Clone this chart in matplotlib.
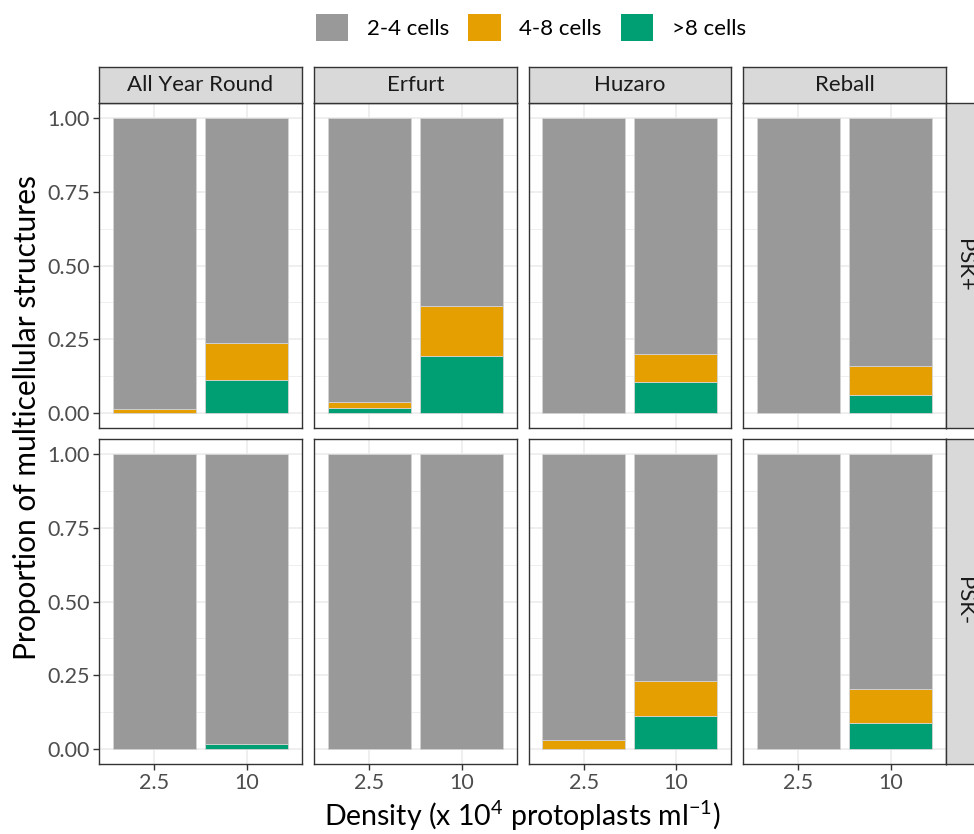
import matplotlib
matplotlib.use('Agg')
import matplotlib.pyplot as plt
from matplotlib.patches import Patch
import numpy as np

plt.rcParams['font.family'] = ['Lato', 'DejaVu Sans']
plt.rcParams['mathtext.fontset'] = 'custom'
plt.rcParams['mathtext.rm'] = 'Lato'
plt.rcParams['mathtext.it'] = 'Lato:italic'

# data
cultivars = ["All Year Round", "Erfurt", "Huzaro", "Reball"]
treatments = ["PSK+", "PSK-"]
densities = ["2.5", "10"]
classes = ["2-4 cells", "4-8 cells", ">8 cells"]
colors = ["#999999", "#E69F00", "#009E73"]

# proportion of >8 cells, [treatment][cultivar][density]
gt8 = [
    [[0.0, 0.112], [0.018, 0.194], [0.0, 0.104], [0.0, 0.060]],
    [[0.0, 0.017], [0.0, 0.0], [0.0, 0.112], [0.0, 0.087]],
]
# proportion of 4-8 cells
c48 = [
    [[0.012, 0.125], [0.018, 0.169], [0.0, 0.097], [0.0, 0.100]],
    [[0.0, 0.0], [0.0, 0.0], [0.029, 0.118], [0.0, 0.116]],
]

W, H = 974, 834
fig = plt.figure(figsize=(W / 100, H / 100), dpi=100)


def px(x0, y0, x1, y1):
    return [x0 / W, 1 - y1 / H, (x1 - x0) / W, (y1 - y0) / H]


col_x = [(99, 302), (314, 517), (528.5, 731), (743, 946)]
row_y = [(103.25, 427.75), (439.25, 763.75)]
edge = "#333333"
x = np.arange(1, len(densities) + 1)

for r, trt in enumerate(treatments):
    for c, cv in enumerate(cultivars):
        ax = fig.add_axes(px(col_x[c][0], row_y[r][0], col_x[c][1], row_y[r][1]))
        g = np.array(gt8[r][c])
        o = np.array(c48[r][c])
        s = 1 - g - o
        bar_kw = dict(width=0.9, edgecolor="#d4d4d4", linewidth=0.6, zorder=2)
        ax.bar(x, g, bottom=0, color=colors[2], **bar_kw)
        ax.bar(x, o, bottom=g, color=colors[1], **bar_kw)
        ax.bar(x, s, bottom=g + o, color=colors[0], **bar_kw)

        ax.set_xlim(0.4, 2.6)
        ax.set_ylim(-0.05, 1.05)
        ax.set_xticks(x)
        ax.set_xticklabels(densities)
        ax.set_yticks([0, 0.25, 0.5, 0.75, 1.0])
        ax.set_yticklabels(["0.00", "0.25", "0.50", "0.75", "1.00"])
        ax.set_yticks([0.125, 0.375, 0.625, 0.875], minor=True)
        ax.grid(which="major", color="#EBEBEB", linewidth=1.1)
        ax.grid(which="minor", axis="y", color="#EBEBEB", linewidth=0.55)
        ax.set_axisbelow(True)
        ax.tick_params(which="minor", length=0)
        ax.tick_params(which="major", length=4, width=1, color=edge,
                       labelsize=15.5, labelcolor="#4D4D4D", pad=2.5)
        for sp in ax.spines.values():
            sp.set_color(edge)
            sp.set_linewidth(1)
        if c > 0:
            ax.tick_params(axis="y", labelleft=False, length=0)
        if r == 0:
            ax.tick_params(axis="x", labelbottom=False, length=0)

        # column strips
        if r == 0:
            sa = fig.add_axes(px(col_x[c][0], 67, col_x[c][1], 103.25))
            sa.set_facecolor("#D9D9D9")
            sa.set_xticks([])
            sa.set_yticks([])
            for sp in sa.spines.values():
                sp.set_color(edge)
                sp.set_linewidth(1)
            sa.text(0.5, 0.5, cv, ha="center", va="center", fontsize=16,
                    color="#1A1A1A", transform=sa.transAxes)
        # row strips
        if c == len(cultivars) - 1:
            sa = fig.add_axes(px(946, row_y[r][0], 982, row_y[r][1]))
            sa.set_facecolor("#D9D9D9")
            sa.set_xticks([])
            sa.set_yticks([])
            for sp in sa.spines.values():
                sp.set_color(edge)
                sp.set_linewidth(1)
            sa.text(0.5, 0.5, trt, ha="center", va="center", fontsize=16,
                    color="#1A1A1A", rotation=-90, transform=sa.transAxes)

handles = [Patch(facecolor=col, edgecolor="none") for col in colors]
fig.legend(handles, classes, loc="center", bbox_to_anchor=(531 / W, 1 - 27.5 / H),
           ncol=3, frameon=False, fontsize=16, handlelength=1.45, handleheight=1.45,
           handletextpad=0.85, columnspacing=0.85, borderaxespad=0, borderpad=0)

fig.text(522.5 / W, 1 - 816 / H, "Density (x 10$^{4}$ protoplasts ml$^{-1}$)",
         ha="center", va="center", fontsize=20.5)
fig.text(27 / W, 1 - 418 / H, "Proportion of multicellular structures",
         ha="center", va="center", fontsize=21.5, rotation=90)

fig.savefig("out.png", dpi=100)
